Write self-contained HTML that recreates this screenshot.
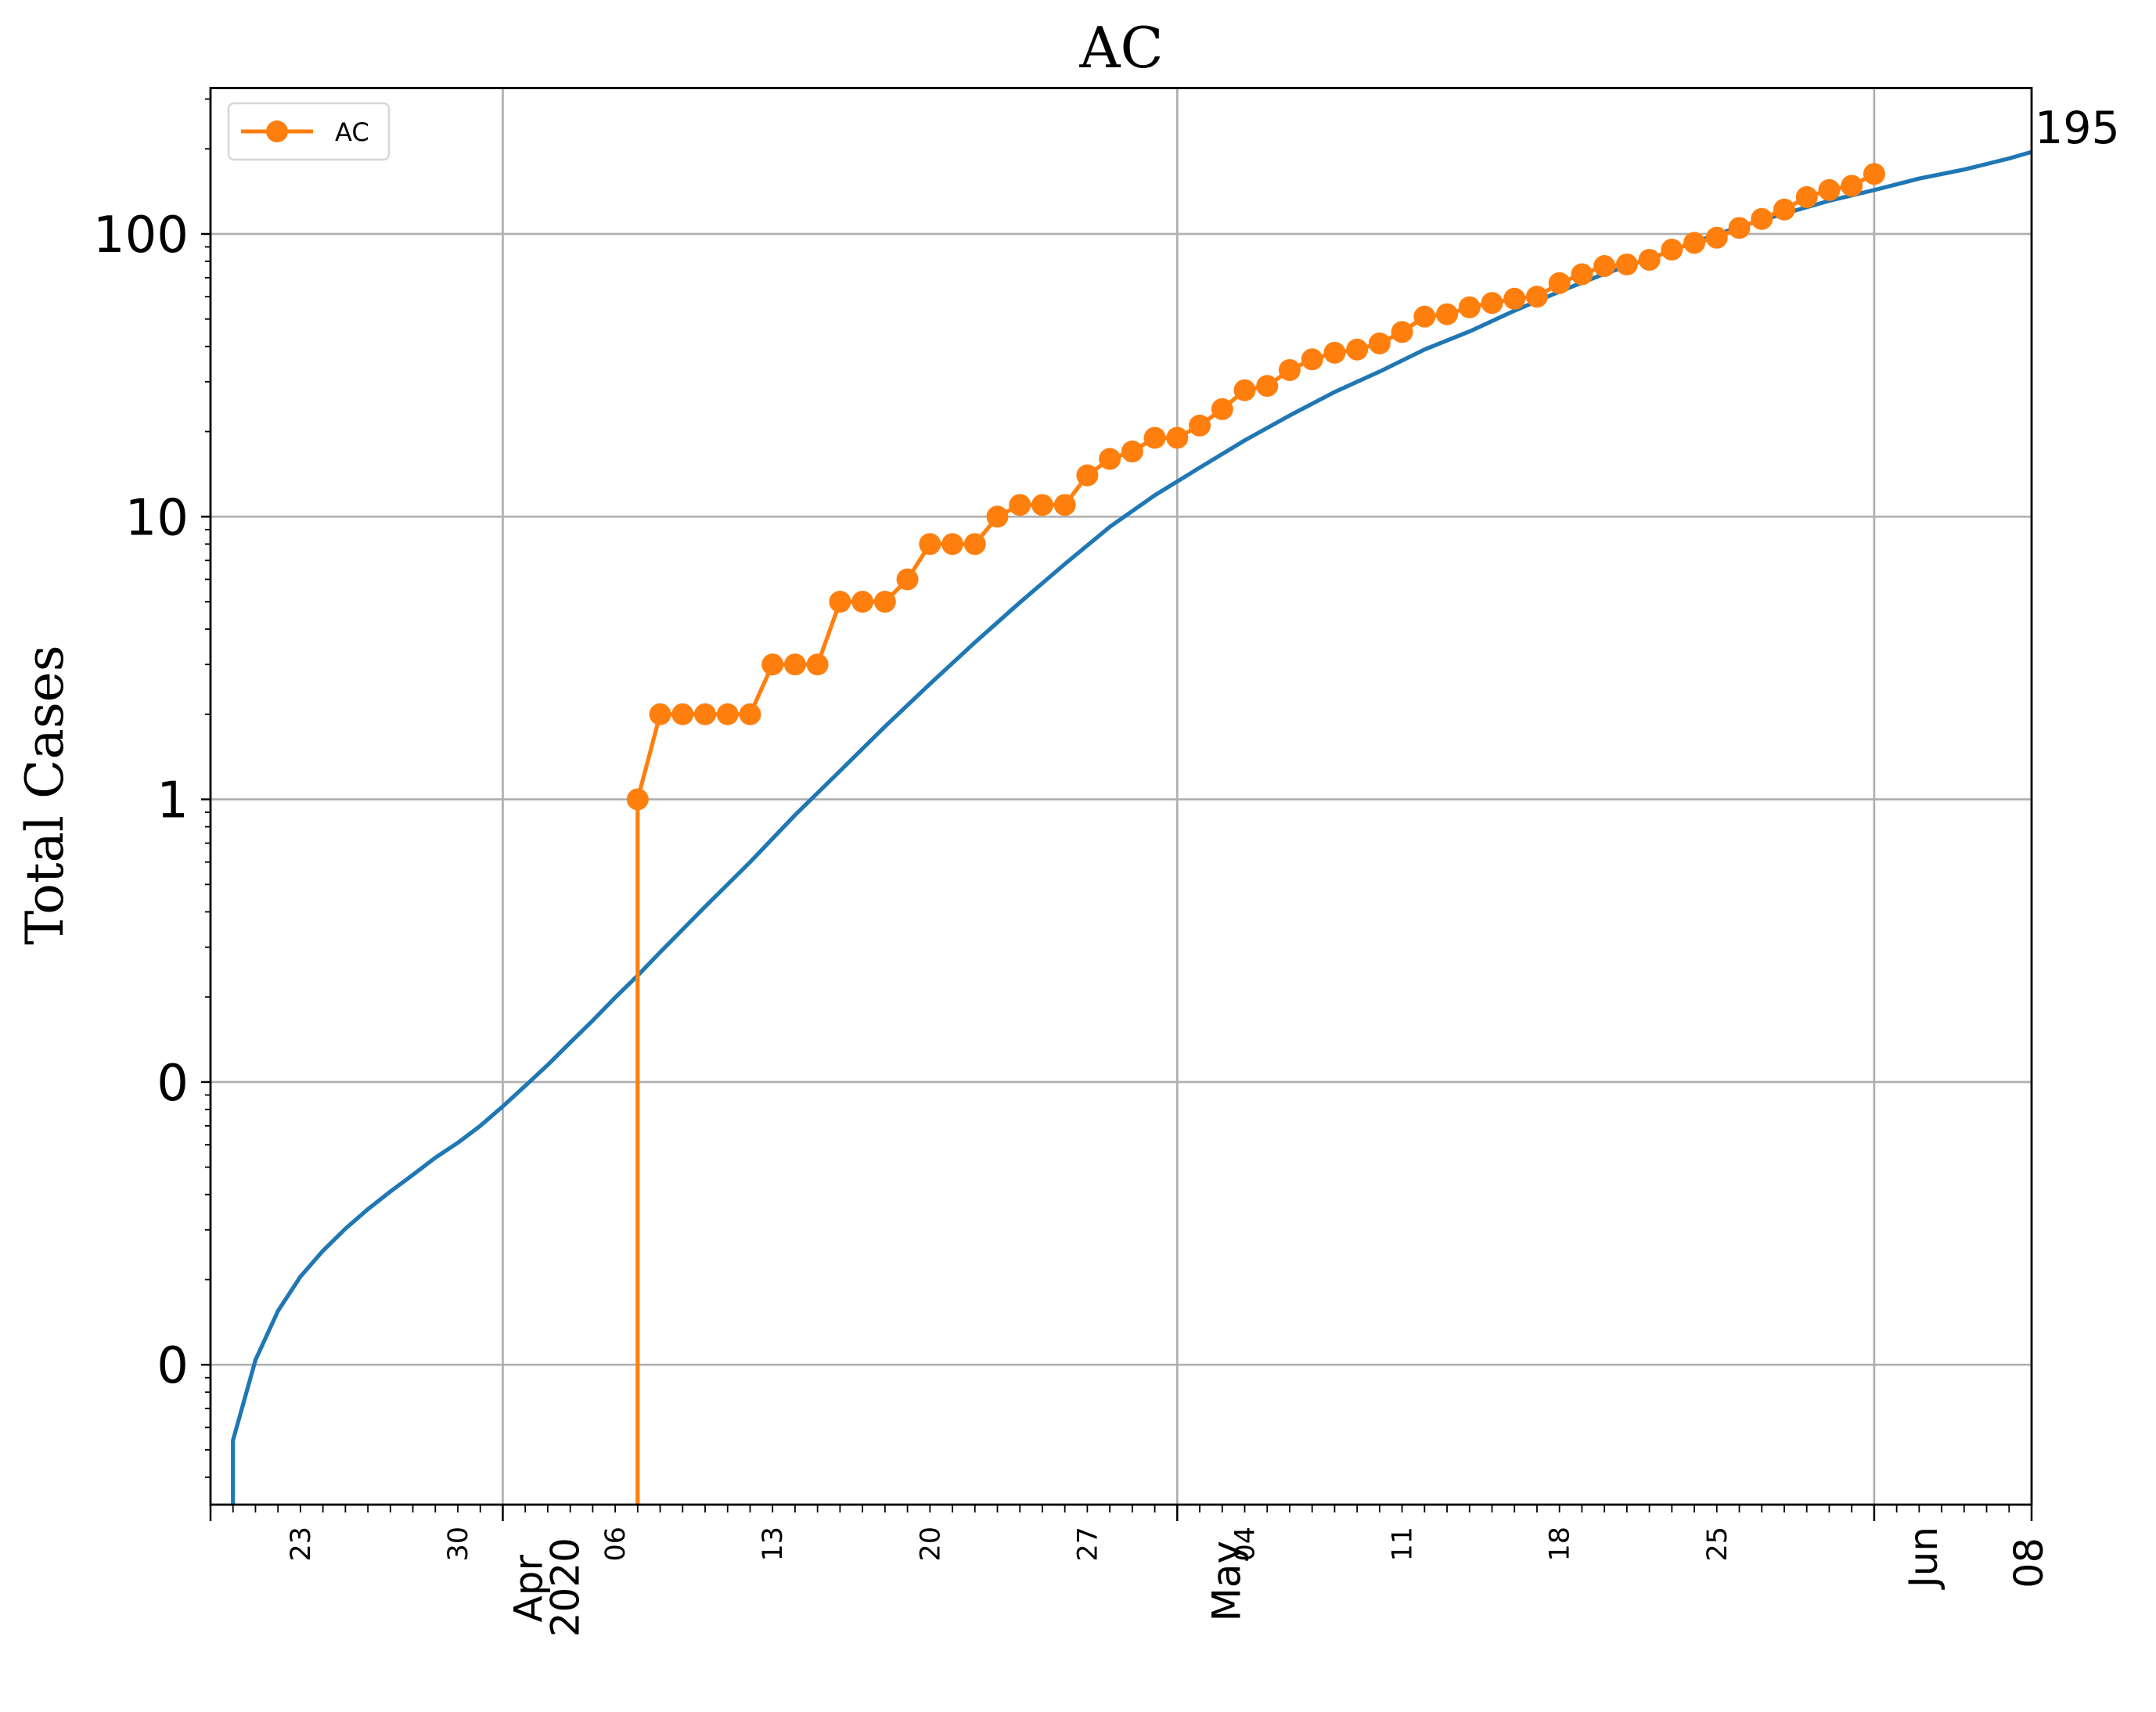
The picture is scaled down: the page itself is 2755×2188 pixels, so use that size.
<!DOCTYPE html>
<html><head><meta charset="utf-8"><style>
html,body{margin:0;padding:0;background:#fff;}
svg{display:block;}
text{font-family:"DejaVu Sans","Liberation Sans",sans-serif;fill:#000;}
</style></head><body>
<svg id="chart" width="2755" height="2188" viewBox="0 0 2755 2188">
<defs><clipPath id="plotclip"><rect x="269" y="112.5" width="2327" height="1810.5"/></clipPath></defs>
<rect x="0" y="0" width="2755" height="2188" fill="#fff"/>
<text x="1433" y="86" text-anchor="middle" font-size="72" style="font-family:'DejaVu Serif','Liberation Serif',serif">AC</text>
<g id="grid"></g>
<g id="series" clip-path="url(#plotclip)"></g>
<rect x="269" y="112.5" width="2327" height="1810.5" fill="none" stroke="#000" stroke-width="2.8"/>
<g id="ticks"></g>
<text transform="translate(80,1016) rotate(-90)" text-anchor="middle" font-size="66" style="font-family:'DejaVu Serif','Liberation Serif',serif">Total Cases</text>
<text x="2600" y="183" font-size="57">195</text>
<g>
<rect x="292" y="132" width="205" height="72" rx="7" fill="#fff" fill-opacity="0.8" stroke="#d6d6d6" stroke-width="2.5"/>
<line x1="308" y1="168" x2="400" y2="168" stroke="#ff7f0e" stroke-width="5"/>
<circle cx="354" cy="168" r="14" fill="#ff7f0e"/>
<text x="428" y="180" font-size="32">AC</text>
</g>
</svg>
<script>
// ---- data ----
const orangeStartDay = 18; // days since Mar 19 (Apr 6)
const orangeValues = [0,1,2,2,2,2,2,3,3,3,5,5,5,6,8,8,8,10,11,11,11,14,16,17,19,19,21,24,28,29,33,36,38,39,41,45,51,52,55,57,59,60,67,72,77,78,81,88,93,97,105,113,122,135,143,148,163];
const blueDays = [0,1,2,3,4,5,6,7,8,9,10,11,12,13,14,15,16,17,18,19,20,22,24,26,28,30,32,34,36,38,40,42,44,46,48,50,52,54,56,58,60,62,64,66,68,70,72,74,76,78,80,81];
const blueValues = [0,0.0054,0.0104,0.0155,0.0205,0.0253,0.0303,0.0355,0.041,0.047,0.054,0.061,0.070,0.082,0.097,0.115,0.138,0.165,0.199,0.238,0.288,0.417,0.60,0.88,1.26,1.81,2.56,3.59,4.97,6.8,9.2,11.9,14.9,18.6,22.8,27.6,32.6,39.0,45.2,53.5,62.5,72.3,81.7,93.5,106,118,131,143,157,169,185,195];
const yTickValues = [100,10,1,0.1,0.01];
const yTickLabels = ["100","10","1","0","0"];
const dayLabelDays = [4,11,18,25,32,39,46,53,60,67,81];
const dayLabels = ["23","30","06","13","20","27","04","11","18","25","08"];
const monthDays = [13,43,74];
const monthLabels = [["Apr","2020"],["May"],["Jun"]];
// ---- axes ----
const X0=269,X1=2596,Y0=112.5,Y1=1923,DMAX=81,DEC=361.3;
const xOf=d=>X0+d*(X1-X0)/DMAX;
const yOf=v=>v<=0?1e6:299+(2-Math.log10(v))*DEC;
const NS="http://www.w3.org/2000/svg";
function mk(tag,parent,attrs){const e=document.createElementNS(NS,tag);for(const k in attrs)e.setAttribute(k,attrs[k]);parent.appendChild(e);return e;}
const grid=document.getElementById('grid'),ticks=document.getElementById('ticks'),series=document.getElementById('series');
yTickValues.forEach((v,i)=>{const y=yOf(v);
 const g=mk('line',grid,{x1:X0,x2:X1,y1:y,y2:y,stroke:'#b0b0b0','stroke-width':2.7});
 
 
 const t=mk('line',ticks,{x1:X0-12,x2:X0,y1:y,y2:y,stroke:'#000','stroke-width':2.5});
 
 
 const l=mk('text',ticks,{x:X0-28,y:y+23,'text-anchor':'end','font-size':64});
 l.textContent=yTickLabels[i];
 
 
});
for(let e=-3;e<=2;e++){for(let m=2;m<=9;m++){const v=m*Math.pow(10,e);const y=yOf(v);if(y<Y0||y>Y1)continue;
 const t=mk('line',ticks,{x1:X0-7,x2:X0,y1:y,y2:y,stroke:'#000','stroke-width':1.8});
 
 }}
monthDays.forEach(d=>{const x=xOf(d);
 const g=mk('line',grid,{x1:x,x2:x,y1:Y0,y2:Y1,stroke:'#b0b0b0','stroke-width':2.7});
 
 });
for(let d=0;d<=DMAX;d++){const x=xOf(d);const major=monthDays.includes(d)||d===0||d===DMAX;
 const t=mk('line',ticks,{x1:x,x2:x,y1:Y1,y2:Y1+(major?21:10),stroke:'#000','stroke-width':major?2.5:1.8});
 
 }
dayLabelDays.forEach((d,i)=>{const big=d===DMAX;const x=xOf(d);
 const l=mk('text',ticks,{transform:`translate(${big?x+14:x+12},${big?1965:1951}) rotate(-90)`,'text-anchor':'end','font-size':big?51:35});
 l.textContent=dayLabels[i];
 
 });
monthDays.forEach((d,i)=>{const x=xOf(d);const lines=monthLabels[i];
 lines.forEach((s,j)=>{const two=lines.length>1;
  const bx=two?(j===0?x+32+18:x+79+18):x+62+18;
  const ty=two?(j===0?1987:1965):(i===1?1969:1951);
  const l=mk('text',ticks,{transform:`translate(${bx},${ty}) rotate(-90)`,'text-anchor':'end','font-size':50});
  l.textContent=s;
  
  });});
let bp=blueDays.map((d,i)=>xOf(d).toFixed(1)+','+yOf(blueValues[i]).toFixed(1));
bp[0]=xOf(blueDays[1]).toFixed(1)+','+(Y1+50);
const bl=mk('polyline',series,{points:bp.join(' '),fill:'none',stroke:'#1f77b4','stroke-width':5.2,'stroke-linejoin':'round'});


let op=orangeValues.map((v,i)=>xOf(orangeStartDay+i).toFixed(1)+','+yOf(v).toFixed(1));
if(orangeValues[0]<=0)op[0]=xOf(orangeStartDay+1).toFixed(1)+','+(Y1+50);
const ol=mk('polyline',series,{points:op.join(' '),fill:'none',stroke:'#ff7f0e','stroke-width':5.2,'stroke-linejoin':'round'});


orangeValues.forEach((v,i)=>{if(v<=0)return;
 const c=mk('circle',series,{cx:xOf(orangeStartDay+i),cy:yOf(v),r:14,fill:'#ff7f0e'});
 
 });
</script>
</body></html>
